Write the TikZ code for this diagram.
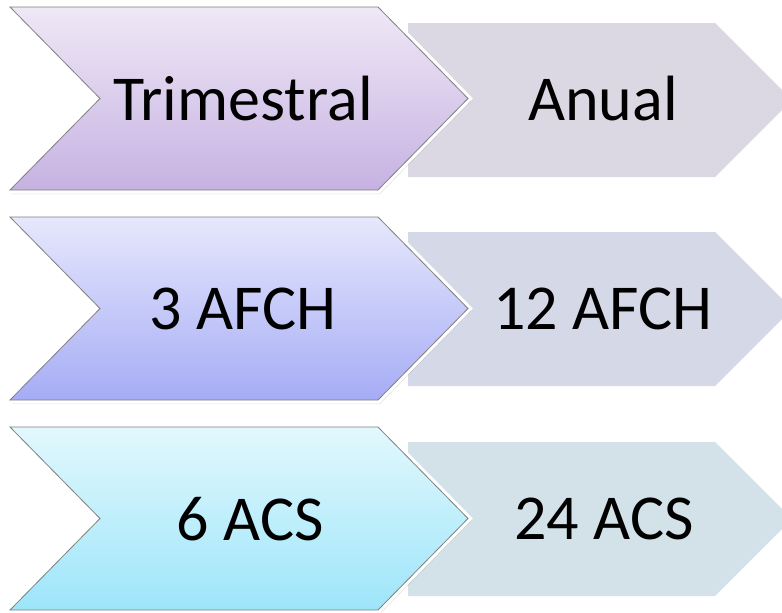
\documentclass[tikz,border=0pt]{standalone}
\usepackage{fontspec}
\setmainfont{Carlito}
\definecolor{pA}{HTML}{EFE8F6}\definecolor{pB}{HTML}{C6B2E2}
\definecolor{bA}{HTML}{E6E8FC}\definecolor{bB}{HTML}{A6ACF5}
\definecolor{cA}{HTML}{E2F8FD}\definecolor{cB}{HTML}{9DE5FA}
\definecolor{gA}{HTML}{DBD8E4}\definecolor{gB}{HTML}{D5D8E6}\definecolor{gC}{HTML}{D3E2E9}
\newcommand\myleftchev[3]{%
  \fill[black,opacity=0.12] ({12},{#1+2}) -- ({380},{#1+2}) -- ({471},{#1+94}) -- ({380},{#1+187}) -- ({12},{#1+187}) -- ({102},{#1+94}) -- cycle;
  \draw[white,line width=7pt,line join=miter] ({10},{#1}) -- ({378},{#1}) -- ({468},{#1+91.5}) -- ({378},{#1+183}) -- ({10},{#1+183}) -- ({100},{#1+91.5}) -- cycle;
  \shade[top color=#2,bottom color=#3,draw=black!50,line width=0.8pt] ({10},{#1}) -- ({378},{#1}) -- ({468},{#1+91.5}) -- ({378},{#1+183}) -- ({10},{#1+183}) -- ({100},{#1+91.5}) -- cycle;}
\newcommand\myrightchev[2]{%
  \fill[#2] ({408},{#1}) -- ({715},{#1}) -- ({792},{#1+77}) -- ({715},{#1+154}) -- ({408},{#1+154}) -- cycle;}
\begin{document}
\begin{tikzpicture}[x=1pt,y=-1pt,
  lbl/.style={font=\fontsize{64}{72}\selectfont,text=black,inner sep=0pt,anchor=center}]
\useasboundingbox (0,0) rectangle (782,613);
\clip (0,0) rectangle (782,613);
\myrightchev{23}{gA}
\myrightchev{232}{gB}
\myrightchev{442}{gC}
\myleftchev{7}{pA}{pB}
\myleftchev{217}{bA}{bB}
\myleftchev{427}{cA}{cB}
\node[lbl] (t1) at (243,99) {Trimestral};
\node[lbl] (a1) at (603,99) {Anual};
\node[lbl] (t2) at (243,309) {3 AFCH};
\node[lbl] (a2) at (603,309) {12 AFCH};
\node[lbl] (t3) at (250,519) {6 ACS};
\node[lbl] (a3) at (604,519) {24 ACS};
\end{tikzpicture}
\end{document}
